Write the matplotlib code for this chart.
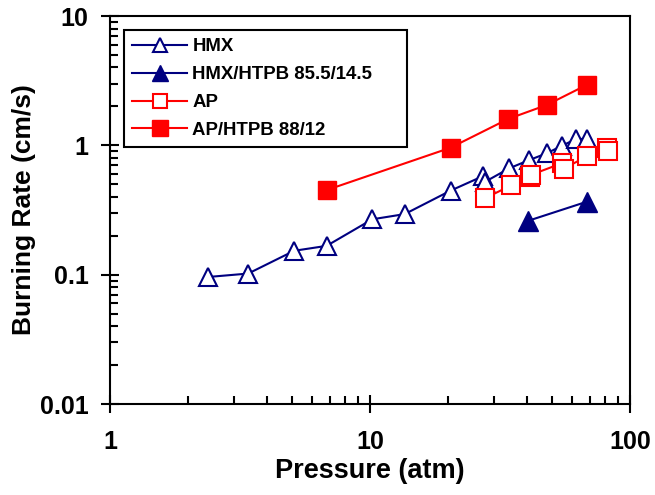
import matplotlib
matplotlib.use("Agg")
import matplotlib.pyplot as plt
from matplotlib.lines import Line2D
from matplotlib.ticker import LogLocator, NullFormatter, FixedLocator

plt.rcParams['font.family'] = 'Liberation Sans'
plt.rcParams['font.weight'] = 'bold'

# burning rate data, pressure in atm, rate in cm/s
hmx_p = [2.39, 3.40, 5.11, 6.81, 10.2, 13.6, 20.4, 27.3, 27.6, 34.3, 41.0, 47.8, 54.6, 62.0, 68.5]
hmx_r = [0.096, 0.102, 0.153, 0.167, 0.268, 0.294, 0.446, 0.58, 0.52, 0.664, 0.77, 0.867, 0.99, 1.12, 1.12]

hmx_htpb_p = [40.6, 68.1]
hmx_htpb_r = [0.261, 0.366]

ap_p = [27.7, 34.9, 41.2, 41.5, 55.0, 55.6, 68.1, 81.3, 82.0]
ap_r = [0.39, 0.49, 0.57, 0.59, 0.73, 0.66, 0.82, 0.95, 0.91]

ap_htpb_p = [6.81, 20.4, 34.0, 47.8, 68.1]
ap_htpb_r = [0.451, 0.958, 1.60, 2.05, 2.93]

labels = ['HMX', 'HMX/HTPB 85.5/14.5', 'AP', 'AP/HTPB 88/12']

navy = '#000080'
red = '#FF0000'

fig = plt.figure(figsize=(6.55, 4.95), dpi=100)
ax = fig.add_axes([110/655, 1-404/495, 520/655, 388/495])

ax.plot(hmx_p, hmx_r, color=navy, lw=1.5, marker='^', ms=13.5, mfc='white', mec=navy, mew=1.5)
ax.plot(hmx_htpb_p, hmx_htpb_r, color=navy, lw=1.5, marker='^', ms=14.5, mfc=navy, mec=navy)
ax.plot(ap_p, ap_r, color=red, lw=1.5, marker='s', ms=13, mfc='white', mec=red, mew=1.5)
ax.plot(ap_htpb_p, ap_htpb_r, color=red, lw=1.5, marker='s', ms=13.5, mfc=red, mec=red)

ax.set_xscale('log')
ax.set_yscale('log')
ax.set_xlim(1, 100)
ax.set_ylim(0.01, 10)

ax.xaxis.set_major_locator(FixedLocator([1, 10, 100]))
ax.yaxis.set_major_locator(FixedLocator([0.01, 0.1, 1, 10]))
ax.set_xticklabels(['1', '10', '100'])
ax.set_yticklabels(['0.01', '0.1', '1', '10'])
ax.xaxis.set_minor_locator(LogLocator(base=10, subs=range(2, 10)))
ax.yaxis.set_minor_locator(LogLocator(base=10, subs=range(2, 10)))
ax.xaxis.set_minor_formatter(NullFormatter())
ax.yaxis.set_minor_formatter(NullFormatter())

ax.tick_params(which='major', direction='inout', length=13, width=1.5, labelsize=18)
ax.tick_params(axis='x', which='major', pad=12)
ax.tick_params(axis='y', which='major', pad=9)
ax.tick_params(which='minor', direction='in', length=6, width=1.5)
for s in ax.spines.values():
    s.set_linewidth(1.5)

ax.set_xlabel('Pressure (atm)', fontsize=19.5, fontweight='bold', labelpad=3)
ax.set_ylabel('Burning Rate (cm/s)', fontsize=19, fontweight='bold', labelpad=3)

handles = [
    Line2D([], [], color=navy, lw=1.5, marker='^', ms=10, mfc='white', mec=navy, mew=1.5),
    Line2D([], [], color=navy, lw=1.5, marker='^', ms=11, mfc=navy, mec=navy),
    Line2D([], [], color=red, lw=1.5, marker='s', ms=10, mfc='white', mec=red, mew=1.5),
    Line2D([], [], color=red, lw=1.5, marker='s', ms=11, mfc=red, mec=red),
]
leg = ax.legend(handles, labels, loc='upper left',
                bbox_to_anchor=(14/520, (404-146)/388, 283/520, 116/388), mode='expand',
                borderaxespad=0, fancybox=False, edgecolor='black', framealpha=1,
                handlelength=2.95, handletextpad=0.27, labelspacing=0.58, borderpad=0.45,
                prop={'size': 13.4, 'weight': 'bold'})
leg.get_frame().set_linewidth(1.5)

fig.savefig('out.png', dpi=100)
